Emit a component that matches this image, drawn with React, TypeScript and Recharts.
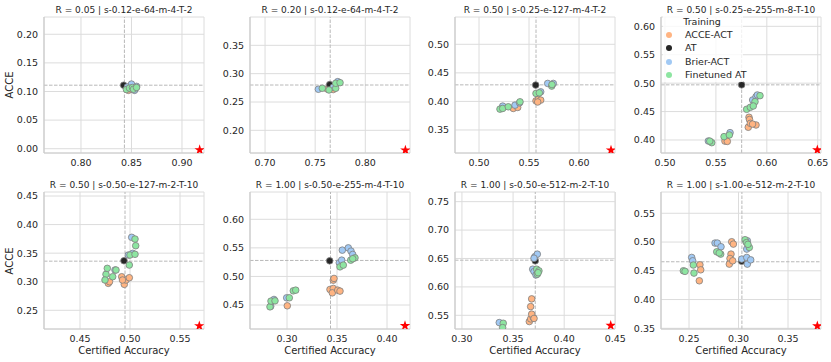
import { ScatterChart, Scatter, XAxis, YAxis, CartesianGrid, ReferenceLine, Symbols } from 'recharts'

type Pt = [number, number]

const titles = [
  'R = 0.05 | s-0.12-e-64-m-4-T-2',
  'R = 0.20 | s-0.12-e-64-m-4-T-2',
  'R = 0.50 | s-0.25-e-127-m-4-T-2',
  'R = 0.50 | s-0.25-e-255-m-8-T-10',
  'R = 0.50 | s-0.50-e-127-m-2-T-10',
  'R = 1.00 | s-0.50-e-255-m-4-T-10',
  'R = 1.00 | s-0.50-e-512-m-2-T-10',
  'R = 1.00 | s-1.00-e-512-m-2-T-10',
]

const trainings = ['ACCE-ACT', 'AT', 'Brier-ACT', 'Finetuned AT']

const xDomains: Pt[] = [
  [0.7634, 0.9218], [0.685, 0.8446], [0.476, 0.636], [0.4961, 0.6532],
  [0.414, 0.574], [0.263, 0.423], [0.2932, 0.4497], [0.2217, 0.3833],
]
const yDomains: Pt[] = [
  [-0.0075, 0.2302], [0.16, 0.4], [0.3097, 0.5478], [0.3771, 0.6164],
  [0.2173, 0.457], [0.408, 0.6478], [0.5259, 0.767], [0.3488, 0.587],
]
const xTicks = [
  [0.8, 0.85, 0.9], [0.7, 0.75, 0.8], [0.5, 0.55, 0.6], [0.5, 0.55, 0.6, 0.65],
  [0.45, 0.5, 0.55], [0.3, 0.35, 0.4], [0.3, 0.35, 0.4, 0.45], [0.25, 0.3, 0.35],
]
const yTicks = [
  [0, 0.05, 0.1, 0.15, 0.2], [0.2, 0.25, 0.3, 0.35], [0.35, 0.4, 0.45, 0.5],
  [0.4, 0.45, 0.5, 0.55, 0.6], [0.25, 0.3, 0.35, 0.4, 0.45], [0.45, 0.5, 0.55, 0.6],
  [0.55, 0.6, 0.65, 0.7, 0.75], [0.35, 0.4, 0.45, 0.5, 0.55],
]

// AT point per panel (also the dashed reference lines)
const atPoints: Pt[] = [
  [0.8423, 0.111], [0.7645, 0.2806], [0.5567, 0.4286], [0.5753, 0.497],
  [0.494, 0.3367], [0.3427, 0.5273], [0.3717, 0.6458], [0.3032, 0.4665],
]
const refLines: Pt[] = [
  [0.843, 0.111], [0.765, 0.28], [0.557, 0.429], [0.5753, 0.497],
  [0.495, 0.336], [0.3435, 0.528], [0.3717, 0.647], [0.3034, 0.4657],
]
// red star (ideal point) per panel
const stars: Pt[] = [
  [0.9175, -0.002], [0.84, 0.165], [0.632, 0.3147], [0.6496, 0.3824],
  [0.5693, 0.2227], [0.418, 0.4137], [0.4455, 0.532], [0.3796, 0.354],
]

const acceAct: Pt[][] = [
  [[0.847, 0.102], [0.85, 0.104], [0.853, 0.103]],
  [[0.762, 0.273], [0.768, 0.272]],
  [[0.5343, 0.3877], [0.5387, 0.3895], [0.557, 0.401], [0.5593, 0.4035], [0.5617, 0.4023], [0.5587, 0.399]],
  [[0.5589, 0.398], [0.5612, 0.3975], [0.5825, 0.44], [0.583, 0.436], [0.5818, 0.4224], [0.5838, 0.4293], [0.5894, 0.4264], [0.586, 0.428]],
  [[0.4783, 0.2972], [0.4795, 0.3], [0.4917, 0.3087], [0.4943, 0.2954], [0.496, 0.303], [0.4993, 0.307], [0.4925, 0.303]],
  [[0.3003, 0.4486], [0.343, 0.4772], [0.3463, 0.479], [0.3453, 0.4713], [0.3507, 0.476], [0.353, 0.4743], [0.3463, 0.4935], [0.347, 0.4965]],
  [[0.3659, 0.539], [0.3672, 0.5437], [0.3698, 0.546], [0.3682, 0.552], [0.3672, 0.5653], [0.3682, 0.5789], [0.3705, 0.5445]],
  [[0.261, 0.4604], [0.2618, 0.4517], [0.2604, 0.4326], [0.2931, 0.5005], [0.2948, 0.4964], [0.2924, 0.479], [0.2914, 0.4714], [0.2907, 0.4616], [0.2941, 0.4674]],
]

const brierAct: Pt[][] = [
  [[0.846, 0.108], [0.85, 0.113], [0.853, 0.102], [0.855, 0.109]],
  [[0.7532, 0.2725], [0.768, 0.276], [0.7725, 0.2859]],
  [[0.5237, 0.3918], [0.536, 0.3935], [0.5405, 0.3975], [0.5617, 0.4168], [0.5687, 0.4315], [0.5743, 0.4315]],
  [[0.5426, 0.3982], [0.5639, 0.4129], [0.5861, 0.4704], [0.5894, 0.4762], [0.5907, 0.4792]],
  [[0.485, 0.3205], [0.4983, 0.3467], [0.5027, 0.3497], [0.5017, 0.3777]],
  [[0.2837, 0.4478], [0.287, 0.4597], [0.2997, 0.4626], [0.3523, 0.5238], [0.3547, 0.5285], [0.3553, 0.546], [0.3613, 0.55], [0.364, 0.5443], [0.3657, 0.5385]],
  [[0.3365, 0.5372], [0.3692, 0.6311], [0.3705, 0.627], [0.3724, 0.6211], [0.3714, 0.6533], [0.3737, 0.6576], [0.3705, 0.6505]],
  [[0.2527, 0.4732], [0.2537, 0.4674], [0.2763, 0.4982], [0.2786, 0.4982], [0.2823, 0.4918], [0.3032, 0.4703], [0.3089, 0.5022], [0.3083, 0.4877], [0.3083, 0.4732], [0.3089, 0.4616], [0.3123, 0.469]],
]

const finetunedAt: Pt[][] = [
  [[0.845, 0.1035], [0.848, 0.106], [0.851, 0.107], [0.852, 0.104], [0.855, 0.107]],
  [[0.7571, 0.2742], [0.7638, 0.2712], [0.7705, 0.2742], [0.7705, 0.283], [0.7748, 0.2841]],
  [[0.521, 0.3865], [0.5237, 0.3877], [0.5293, 0.3906], [0.541, 0.3993], [0.557, 0.414], [0.5603, 0.415], [0.5727, 0.4268], [0.573, 0.4295]],
  [[0.5459, 0.3953], [0.544, 0.398], [0.558, 0.4059], [0.5632, 0.4088], [0.5802, 0.454], [0.5838, 0.4575], [0.5884, 0.4674], [0.5867, 0.4598], [0.5933, 0.478]],
  [[0.476, 0.313], [0.475, 0.303], [0.4773, 0.3234], [0.4827, 0.3088], [0.486, 0.3205], [0.4993, 0.3292], [0.5, 0.3467], [0.505, 0.348], [0.5057, 0.363], [0.505, 0.3747]],
  [[0.283, 0.4468], [0.284, 0.4568], [0.288, 0.4573], [0.3023, 0.4626], [0.3063, 0.4748], [0.3087, 0.476], [0.353, 0.5168], [0.3563, 0.5198], [0.3637, 0.5285], [0.368, 0.5326], [0.3657, 0.531]],
  [[0.3404, 0.536], [0.3398, 0.5284], [0.3737, 0.6223], [0.3731, 0.6311], [0.3753, 0.6282], [0.3745, 0.625]],
  [[0.2443, 0.45], [0.246, 0.449], [0.2544, 0.46], [0.255, 0.446], [0.278, 0.483], [0.282, 0.479], [0.2805, 0.481], [0.3066, 0.504], [0.308, 0.499], [0.3109, 0.4906], [0.3095, 0.496]],
]

const COLORS = ['#ffb482', '#262626', '#a1c9f4', '#8de5a1']
const TEXT = '#262626'
const FONT = '"DejaVu Sans", sans-serif'
const PLOT_LEFT = [44, 250, 455, 661]
const PLOT_TOP = [17, 192]
const PLOT_H = [136, 137]
const PLOT_W = 160
const Y_W = 40
const M_TOP = 4
const M_RIGHT = 14
const X_H = 22

const toXY = (pts: Pt[]) => pts.map(([x, y]) => ({ x, y }))
const fmt = (v: number) => v.toFixed(2)

const dot = (color: string) => (props: any) => (
  <circle cx={props.cx} cy={props.cy} r={3.3} fill={color} stroke="#7f7f7f" strokeWidth={0.8} />
)
const star = (props: any) => (
  <Symbols cx={props.cx} cy={props.cy} type="star" size={34} fill="#ff0000" />
)

function Panel({ i }: { i: number }) {
  const col = i % 4
  const row = Math.floor(i / 4)
  const h = PLOT_H[row]
  const series = [acceAct[i], [atPoints[i]], brierAct[i], finetunedAt[i]]
  return (
    <div style={{ position: 'absolute', left: PLOT_LEFT[col] - Y_W, top: PLOT_TOP[row] - M_TOP }}>
      <ScatterChart
        width={Y_W + PLOT_W + M_RIGHT}
        height={M_TOP + h + X_H}
        margin={{ top: M_TOP, right: M_RIGHT, bottom: 0, left: 0 }}
      >
        <CartesianGrid stroke="#dcdcdc" />
        <XAxis
          type="number"
          dataKey="x"
          domain={xDomains[i]}
          ticks={xTicks[i]}
          allowDataOverflow
          interval={0}
          height={X_H}
          tickFormatter={fmt}
          tickLine={false}
          tickSize={0}
          tickMargin={6}
          axisLine={{ stroke: '#cccccc', strokeWidth: 1.2 }}
          tick={{ fill: TEXT, fontSize: 9.5, fontFamily: FONT }}
        />
        <YAxis
          type="number"
          dataKey="y"
          domain={yDomains[i]}
          ticks={yTicks[i]}
          allowDataOverflow
          interval={0}
          width={Y_W}
          tickFormatter={fmt}
          tickLine={false}
          tickSize={0}
          tickMargin={6}
          axisLine={{ stroke: '#cccccc', strokeWidth: 1.2 }}
          tick={{ fill: TEXT, fontSize: 9.5, fontFamily: FONT }}
        />
        <ReferenceLine x={refLines[i][0]} stroke="#b8b8b8" strokeDasharray="3.5 1.5" />
        <ReferenceLine y={refLines[i][1]} stroke="#b8b8b8" strokeDasharray="3.5 1.5" />
        {series.map((pts, k) => (
          <Scatter
            key={trainings[k]}
            name={trainings[k]}
            data={toXY(pts)}
            fill={COLORS[k]}
            shape={dot(COLORS[k])}
            isAnimationActive={false}
          />
        ))}
        <Scatter name="ideal" data={toXY([stars[i]])} shape={star} isAnimationActive={false} />
      </ScatterChart>
    </div>
  )
}

export default function App() {
  const text = { position: 'absolute' as const, color: TEXT, fontFamily: FONT, whiteSpace: 'nowrap' as const }
  return (
    <div style={{ position: 'absolute', left: 0, top: 0, width: 831, height: 362, background: '#fff', overflow: 'hidden' }}>
      {titles.map((t, i) => {
        const col = i % 4
        const row = Math.floor(i / 4)
        return (
          <div key={t + i} style={{ ...text, left: PLOT_LEFT[col] + PLOT_W / 2 - 110, width: 220, textAlign: 'center', top: row === 0 ? 3.5 : 178.5, fontSize: 9, lineHeight: '12px' }}>
            {t}
          </div>
        )
      })}
      {titles.map((_, i) => <Panel key={i} i={i} />)}
      {[85, 260.5].map((cy) => (
        <div key={cy} style={{ ...text, left: 10 - 30, top: cy - 6, width: 60, textAlign: 'center', fontSize: 10, lineHeight: '12px', transform: 'rotate(-90deg)' }}>
          ACCE
        </div>
      ))}
      {PLOT_LEFT.map((l) => (
        <div key={l} style={{ ...text, left: l + PLOT_W / 2 - 60, width: 120, textAlign: 'center', top: 344.5, fontSize: 10, lineHeight: '12px' }}>
          Certified Accuracy
        </div>
      ))}
      <div style={{ position: 'absolute', left: 663, top: 15, width: 80, height: 67, background: 'rgba(255,255,255,0.8)' }}>
        <div style={{ ...text, left: 0, width: 78, textAlign: 'center', top: 1, fontSize: 9.5, lineHeight: '12px' }}>Training</div>
        {trainings.map((t, k) => (
          <div key={t}>
            <div style={{ position: 'absolute', left: 3, top: 16.5 + k * 13.5, width: 6, height: 6, borderRadius: 3, background: COLORS[k] }} />
            <div style={{ ...text, left: 22, top: 13.7 + k * 13.5, fontSize: 9.5, lineHeight: '12px' }}>{t}</div>
          </div>
        ))}
      </div>
    </div>
  )
}
